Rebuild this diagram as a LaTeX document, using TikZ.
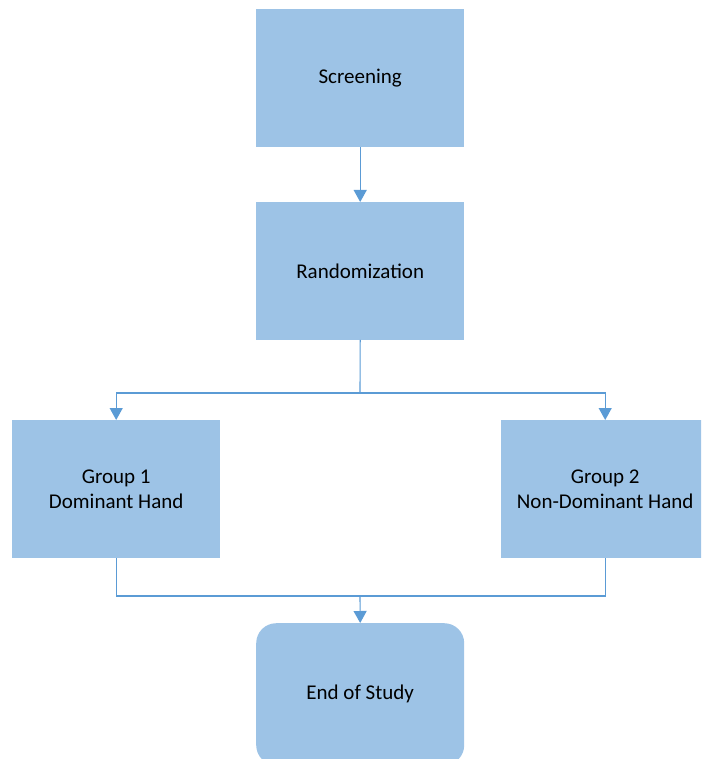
\documentclass[tikz,border=0pt]{standalone}
\usepackage{fontspec}
\setmainfont{Carlito}
\usetikzlibrary{arrows.meta}
\definecolor{boxfill}{HTML}{9DC3E6}
\definecolor{linecol}{HTML}{5B9BD5}
\begin{document}
\begin{tikzpicture}[x=1pt,y=-1pt,
  box/.style={fill=boxfill, minimum width=208pt, minimum height=138pt, inner sep=0pt,
              align=center, font=\fontsize{21}{25}\selectfont, anchor=north west},
  conn/.style={draw=linecol, line width=1.1pt, line cap=rect},
  arr/.style={conn, -{Triangle[length=12pt,width=13pt]}}]
\useasboundingbox (0,0) rectangle (701,759);
\clip (0,0) rectangle (701,759);
\node[box] (scr) at (256,9) {Screening};
\node[box] (ran) at (256,202) {Randomization};
\node[box] (g1) at (12,420) {Group 1\\Dominant Hand};
\node[box] (g2) at (501,420) {Group 2\\Non-Dominant Hand};
\node[box, rounded corners=20pt, minimum height=142pt] (end) at (256,623) {End of Study};
\draw[arr] (scr) -- (ran);
\coordinate (split) at (360,393);
\draw[conn] (ran.south) -- (split);
\draw[arr] (split) -| (g1.north);
\draw[arr] (split) -| (g2.north);
\coordinate (join) at (360,596);
\draw[conn] (g1.south) |- (join);
\draw[conn] (g2.south) |- (join);
\draw[arr] (join) -- (end.north);
\end{tikzpicture}
\end{document}
